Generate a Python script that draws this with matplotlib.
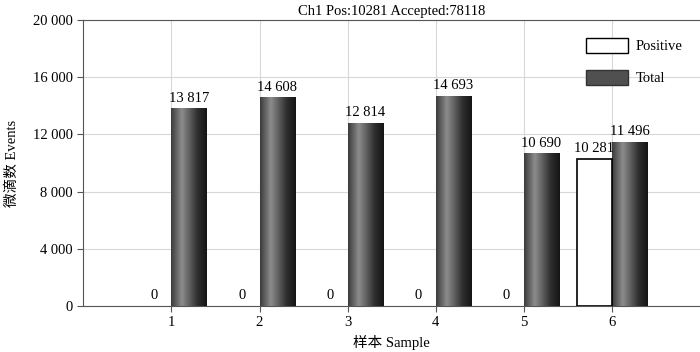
import numpy as np
import matplotlib.pyplot as plt
from matplotlib.patches import Patch
from matplotlib.colors import LinearSegmentedColormap

plt.rcParams['font.family'] = ['Liberation Serif', 'Noto Sans CJK SC']

samples = [1, 2, 3, 4, 5, 6]
positive = [0, 0, 0, 0, 0, 10281]
total = [13817, 14608, 12814, 14693, 10690, 11496]
title = 'Ch1 Pos:10281 Accepted:78118'

def fmt(v):
    return '{:,}'.format(v).replace(',', ' ')

fig = plt.figure(figsize=(7, 3.52), dpi=100)
ax = fig.add_axes([0.119, 0.131, 0.881, 0.812])

w = 0.4
x = np.array(samples)

# cylinder-like shading for the total bars
cyl = LinearSegmentedColormap.from_list('cyl', [(0, '#3c3c3c'), (0.3, '#8c8c8c'), (0.75, '#2e2e2e'), (1, '#151515')])
grad = np.linspace(0, 1, 100).reshape(1, -1)

tb = ax.bar(x, total, width=w, align='edge', color='none', edgecolor='none', zorder=3)
for r in tb:
    im = ax.imshow(grad, cmap=cyl, aspect='auto', zorder=3,
                   extent=[r.get_x(), r.get_x() + r.get_width(), 0, r.get_height()])
    im.set_clip_path(r)
lw = [1.2 if v > 0 else 0 for v in positive]
pb = ax.bar(x - w, positive, width=w, align='edge', color='white', edgecolor='black', linewidth=lw, zorder=3)

for xi, v in zip(x, total):
    ax.text(xi + w / 2, v + 250, fmt(v), ha='center', va='bottom', fontsize=10.5)
for xi, v in zip(x, positive):
    ax.text(xi - w / 2, v + 250, fmt(v), ha='center', va='bottom', fontsize=10.5)

ax.set_xlim(0, 7)
ax.set_ylim(0, 20000)
ax.set_yticks(range(0, 20001, 4000))
ax.set_yticklabels([fmt(v) for v in range(0, 20001, 4000)])
ax.set_xticks(samples)
ax.tick_params(labelsize=10.5, length=4, color='#555555')
ax.grid(True, color='#d8d8d8', linewidth=0.8, zorder=0)
ax.set_axisbelow(True)
for s in ['top', 'left', 'bottom']:
    ax.spines[s].set_color('#555555')
ax.spines['right'].set_visible(False)

ax.set_title(title, fontsize=10.5, pad=4)
ax.set_ylabel('微滴数 Events', fontsize=10.5, labelpad=10)
ax.set_xlabel('样本 Sample', fontsize=10.5, labelpad=4)

handles = [Patch(facecolor='white', edgecolor='black', label='Positive'),
           Patch(facecolor='#505050', edgecolor='#333333', label='Total')]
ax.legend(handles=handles, loc='upper right', frameon=False, fontsize=10.5,
          handlelength=2.9, handleheight=1.3, labelspacing=1.1, handletextpad=0.5,
          borderaxespad=0.8)

fig.savefig('out.png', dpi=100)
